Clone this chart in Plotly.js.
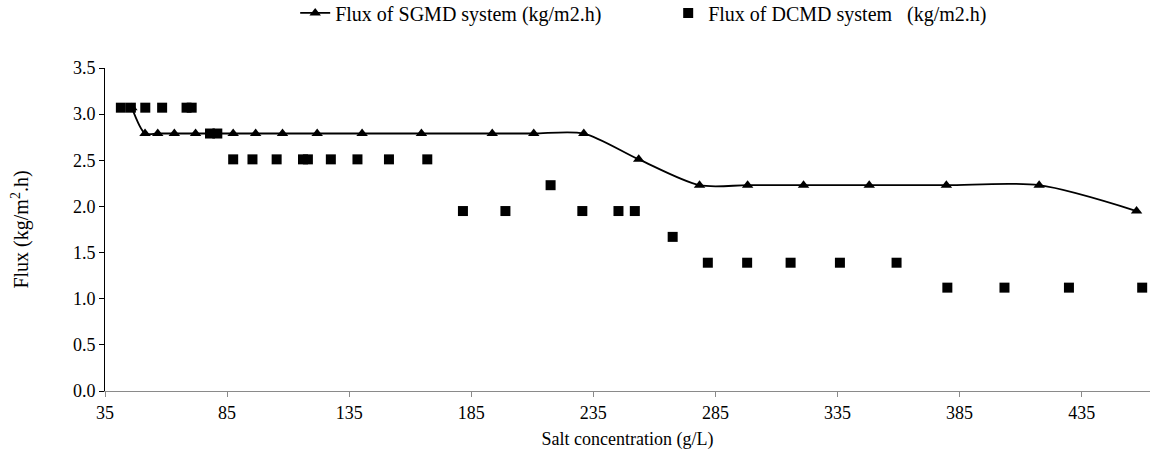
<!DOCTYPE html>
<html>
<head>
<meta charset="utf-8">
<script src="https://cdn.plot.ly/plotly-3.0.1.min.js"></script>
<style>html,body{margin:0;padding:0;background:#fff;}#chart{width:1162px;height:456px;}</style>
</head>
<body>
<div id="chart"></div>
<script>
// Salt concentration (g/L) and flux (kg/m2.h)
const sgmdConc = [46, 51.4, 56.6, 63.4, 72.1, 79.5, 87.5, 96.7, 107.7, 121.9, 140.3, 164.6, 193.6, 210.6, 231.1, 253.6, 278.5, 298.2, 321.1, 348.0, 379.6, 417.6, 457.5];
const sgmdFlux = [3.07, 2.79, 2.79, 2.79, 2.79, 2.79, 2.79, 2.79, 2.79, 2.79, 2.79, 2.79, 2.79, 2.79, 2.79, 2.51, 2.23, 2.23, 2.23, 2.23, 2.23, 2.23, 1.95];

const dcmdConc = [41.5, 45.6, 51.5, 58.4, 68.4, 70.5, 78.0, 81.0, 87.5, 95.4, 105.3, 116.1, 118.1, 127.5, 138.4, 151.3, 167.0, 181.6, 199.0, 217.5, 230.5, 245.3, 252.0, 267.5, 281.9, 298.0, 315.8, 336.0, 359.2, 380.0, 403.4, 429.8, 459.8];
const dcmdFlux = [3.07, 3.07, 3.07, 3.07, 3.07, 3.07, 2.79, 2.79, 2.51, 2.51, 2.51, 2.51, 2.51, 2.51, 2.51, 2.51, 2.51, 1.95, 1.95, 2.23, 1.95, 1.95, 1.95, 1.67, 1.39, 1.39, 1.39, 1.39, 1.39, 1.12, 1.12, 1.12, 1.12];

const seriesNames = ['Flux of SGMD system (kg/m2.h)', 'Flux of DCMD system\u00a0\u00a0 (kg/m2.h)'];
const xTitle = 'Salt concentration (g/L)';
const yTitle = 'Flux (kg/m<sup>2</sup>.h)';

const FONT = 'Liberation Serif, Times New Roman, serif';

const traces = [
  {
    x: sgmdConc, y: sgmdFlux, name: seriesNames[0], type: 'scatter', mode: 'lines+markers',
    line: {color: '#000', width: 1.8, shape: 'spline', smoothing: 0.8},
    marker: {symbol: 'triangle-up', size: 10, color: '#000'}
  },
  {
    x: dcmdConc, y: dcmdFlux, name: seriesNames[1], type: 'scatter', mode: 'markers',
    marker: {symbol: 'square', size: 10, color: '#000'}
  }
];

const layout = {
  width: 1162, height: 456,
  margin: {l: 105, r: 12, t: 68, b: 65, autoexpand: false},
  paper_bgcolor: '#fff', plot_bgcolor: '#fff',
  font: {family: FONT, size: 18, color: '#000'},
  showlegend: true,
  legend: {
    orientation: 'h', x: 0.182, xanchor: 'left', y: 1.11, yanchor: 'bottom',
    font: {family: FONT, size: 20, color: '#000'},
    entrywidth: 328, entrywidthmode: 'pixels'
  },
  xaxis: {
    range: [35, 463], tick0: 35, dtick: 50, showgrid: false, zeroline: false,
    showline: true, linecolor: '#8a8a8a', linewidth: 1,
    ticks: 'outside', ticklen: 5, tickcolor: '#8a8a8a',
    tickfont: {family: FONT, size: 18, color: '#000'},
    title: {text: xTitle, font: {family: FONT, size: 18, color: '#000'}, standoff: 10}
  },
  yaxis: {
    range: [0, 3.5], dtick: 0.5, tickformat: '.1f', showgrid: false, zeroline: false,
    showline: true, linecolor: '#000', linewidth: 1,
    ticks: 'outside', ticklen: 5, tickcolor: '#000',
    tickfont: {family: FONT, size: 18, color: '#000'},
    title: {text: yTitle, font: {family: FONT, size: 20, color: '#000'}, standoff: 38}
  }
};

Plotly.newPlot('chart', traces, layout, {displayModeBar: false, staticPlot: true});
</script>
</body>
</html>
